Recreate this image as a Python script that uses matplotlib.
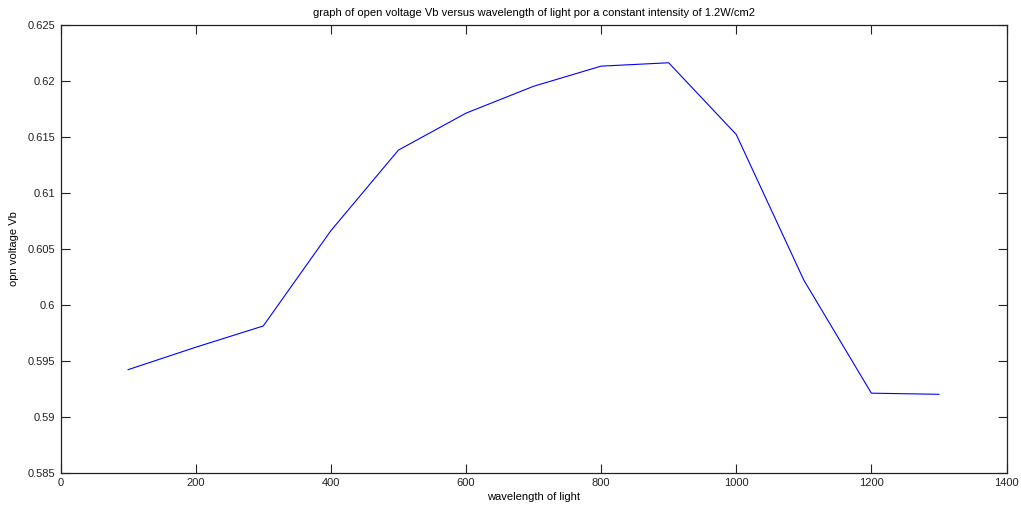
import numpy as np
import matplotlib.pyplot as plt

# wavelength vs open voltage readings
wavelength = [100, 200, 300, 400, 500, 600, 700, 800, 900, 1000, 1100, 1200, 1300]
voltage = [0.5942, 0.5962, 0.5981, 0.6066, 0.6138, 0.6171, 0.6195, 0.6213,
           0.6216, 0.6152, 0.6022, 0.5921, 0.5920]

xticks = [0, 200, 400, 600, 800, 1000, 1200, 1400]
yticks = [0.585, 0.59, 0.595, 0.6, 0.605, 0.61, 0.615, 0.62, 0.625]
ytick_labels = ['0.585', '0.59', '0.595', '0.6', '0.605', '0.61', '0.615', '0.62', '0.625']

plt.rcParams['font.family'] = ['Liberation Sans', 'DejaVu Sans']
plt.rcParams['font.size'] = 8

fig = plt.figure(figsize=(10.21, 5.08), dpi=100)
ax = fig.add_axes([0.0593, 0.0695, 0.9265, 0.8819])

ax.plot(wavelength, voltage, color='#0000ff', linewidth=0.8)

ax.set_xlim(0, 1400)
ax.set_ylim(0.585, 0.625)
ax.set_xticks(xticks)
ax.set_yticks(yticks)
ax.set_yticklabels(ytick_labels)
ax.tick_params(direction='in', length=6.8, width=0.8, top=True, right=True,
               labelsize=8, pad=4, colors='#222222')
for sp in ax.spines.values():
    sp.set_linewidth(0.9)
    sp.set_color('#222222')

ax.set_title('graph of open voltage Vb versus wavelength of light por a constant intensity of 1.2W/cm2',
             fontsize=8, pad=6)
ax.set_xlabel('wavelength of light', fontsize=8, labelpad=3)
ax.set_ylabel('opn voltage Vb', fontsize=8, labelpad=6)

fig.savefig('out.png', dpi=100)
